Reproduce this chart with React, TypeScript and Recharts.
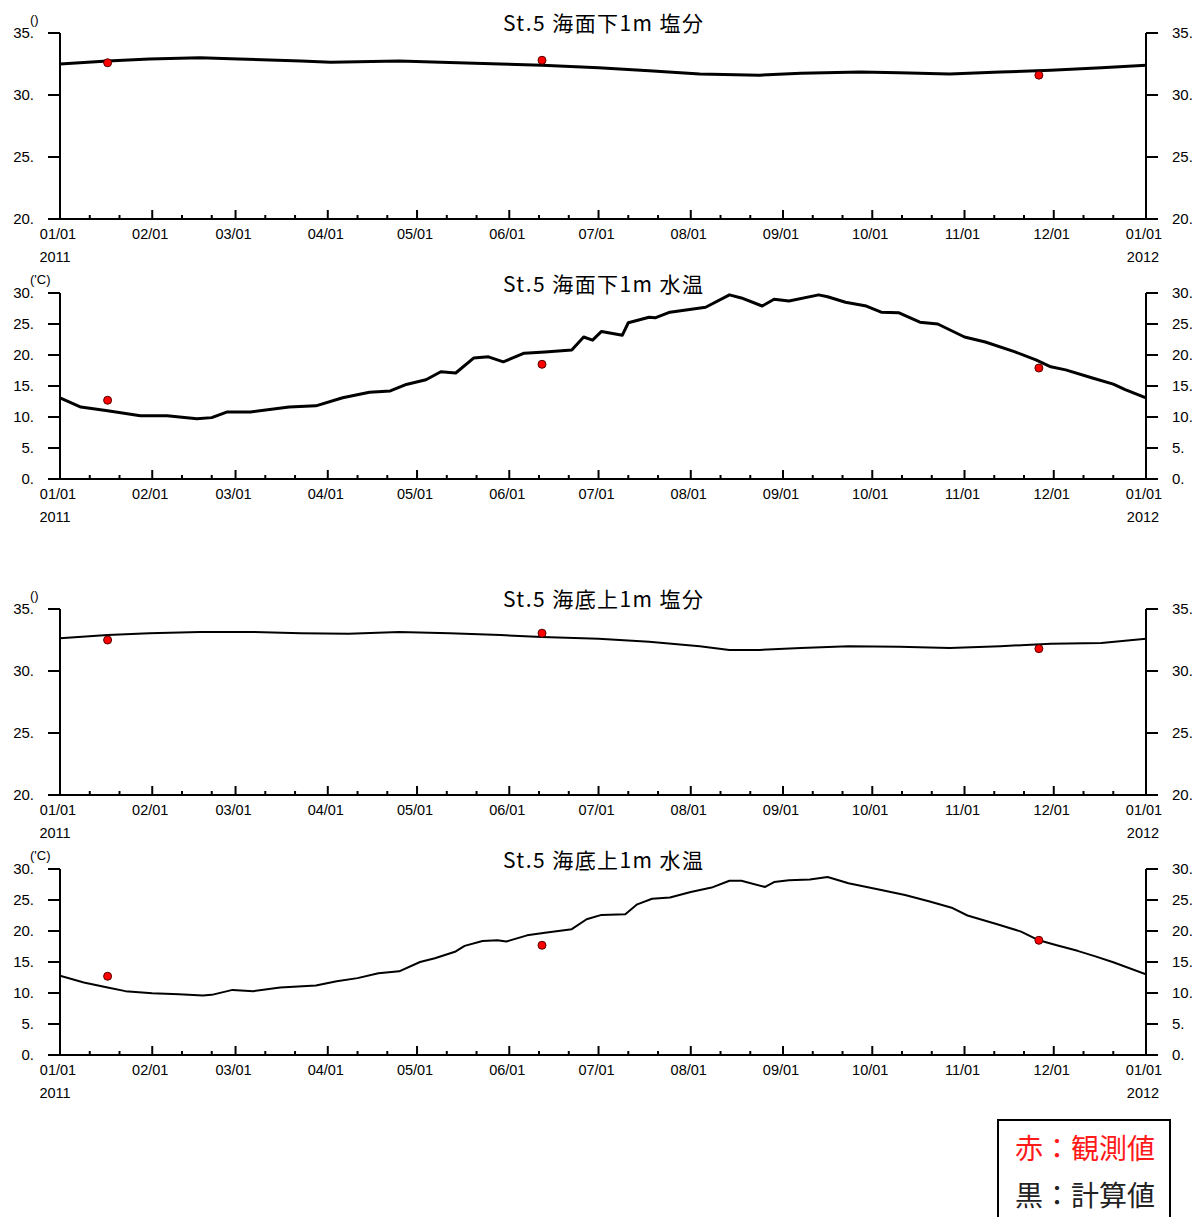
import React from 'react';
import { ComposedChart, Line, Scatter, XAxis, YAxis } from 'recharts';

// ---- axis ticks ----
const monthStartDays = [0, 31, 59, 90, 120, 151, 181, 212, 243, 273, 304, 334, 365];
const monthLabels = ['01/01', '02/01', '03/01', '04/01', '05/01', '06/01', '07/01', '08/01', '09/01', '10/01', '11/01', '12/01', '01/01'];
const minorTickDays = [10, 20, 41, 51, 69, 79, 100, 110, 130, 140, 161, 171, 191, 201, 222, 232, 253, 263, 283, 293, 314, 324, 344, 354];
const startYearLabel = '2011';
const endYearLabel = '2012';
const salinityTicks = [20, 25, 30, 35];
const temperatureTicks = [0, 5, 10, 15, 20, 25, 30];

// ---- series: St.5 surface (1m below surface) salinity ----
const surfSalDays = [0, 16, 30, 47, 60, 81, 91, 114, 128, 148, 162, 181, 198, 215, 235, 249, 269, 282, 299, 316, 333, 350, 365];
const surfSalValues = [32.5, 32.75, 32.9, 33.0, 32.9, 32.75, 32.65, 32.75, 32.65, 32.5, 32.4, 32.2, 31.95, 31.7, 31.6, 31.75, 31.85, 31.8, 31.7, 31.85, 32.0, 32.2, 32.4];

// ---- series: St.5 surface temperature ----
const surfTempDays = [0, 7, 16, 27, 36, 46, 51, 56, 64, 77, 86, 95, 104, 111, 116, 123, 128, 133, 139, 144, 149, 156, 163, 172, 176, 179, 182, 189, 191, 198, 200, 205, 217, 225, 229, 236, 240, 245, 255, 258, 264, 271, 276, 282, 289, 295, 304, 311, 321, 328, 333, 338, 347, 354, 358, 365];
const surfTempValues = [13.1, 11.6, 11.0, 10.2, 10.2, 9.7, 9.9, 10.8, 10.8, 11.6, 11.8, 13.1, 14.0, 14.2, 15.2, 16.0, 17.3, 17.1, 19.5, 19.7, 18.9, 20.3, 20.5, 20.8, 22.9, 22.4, 23.8, 23.2, 25.2, 26.1, 26.0, 26.9, 27.7, 29.7, 29.2, 27.9, 29.0, 28.7, 29.7, 29.4, 28.5, 27.9, 26.9, 26.8, 25.3, 25.0, 22.9, 22.1, 20.5, 19.2, 18.1, 17.6, 16.3, 15.3, 14.4, 13.1];

// ---- series: St.5 bottom (1m above seabed) salinity ----
const botSalDays = [0, 16, 30, 47, 64, 81, 97, 114, 131, 148, 162, 181, 198, 215, 225, 235, 249, 265, 282, 299, 316, 333, 350, 365];
const botSalValues = [32.65, 32.9, 33.05, 33.15, 33.15, 33.05, 33.0, 33.15, 33.05, 32.9, 32.75, 32.6, 32.35, 32.0, 31.7, 31.7, 31.85, 32.0, 31.95, 31.85, 32.0, 32.2, 32.25, 32.6];

// ---- series: St.5 bottom temperature ----
const botTempDays = [0, 8, 16, 22, 31, 40, 48, 51, 58, 65, 74, 86, 93, 100, 107, 114, 121, 126, 133, 136, 142, 147, 150, 157, 163, 172, 177, 182, 190, 194, 199, 205, 212, 219, 225, 229, 237, 240, 245, 252, 258, 265, 276, 284, 292, 300, 305, 315, 323, 329, 335, 342, 348, 354, 365];
const botTempValues = [12.8, 11.7, 10.9, 10.3, 9.95, 9.8, 9.6, 9.7, 10.5, 10.3, 10.9, 11.2, 11.9, 12.4, 13.2, 13.5, 15.0, 15.6, 16.7, 17.6, 18.4, 18.5, 18.3, 19.3, 19.7, 20.3, 21.9, 22.6, 22.7, 24.3, 25.2, 25.4, 26.3, 27.0, 28.1, 28.1, 27.1, 27.9, 28.2, 28.3, 28.7, 27.7, 26.6, 25.8, 24.8, 23.7, 22.5, 21.1, 19.9, 18.5, 17.7, 16.8, 15.9, 14.95, 13.0];

// ---- observations (red dots) ----
const obsDays = [16, 162, 329];
const surfSalObs = [32.6, 32.8, 31.6];
const surfTempObs = [12.7, 18.5, 17.9];
const botSalObs = [32.5, 33.05, 31.8];
const botTempObs = [12.7, 17.7, 18.5];

const toRows = (days: number[], vals: number[]) => days.map((d, i) => ({ day: d, v: vals[i] }));

const FONT = 'Liberation Sans, Arial, Helvetica, sans-serif';
const CJK = '"Noto Sans CJK JP", "Noto Sans CJK SC", sans-serif';

const allXTicks = [...monthStartDays, ...minorTickDays].sort((a, b) => a - b);

const DateTick = (props: any) => {
  const { x, y, payload } = props;
  const idx = monthStartDays.indexOf(payload.value);
  const major = idx >= 0;
  return (
    <g>
      <line x1={x} x2={x} y1={y} y2={y - (major ? 9 : 4)} stroke="#000" strokeWidth={2} />
      {major && (
        <text x={x - 2} y={y + 15} textAnchor="middle" dominantBaseline="central" fontSize={14.5} fontFamily={FONT} fill="#000">
          {monthLabels[idx]}
        </text>
      )}
      {idx === 0 && (
        <text x={x - 5} y={y + 38} textAnchor="middle" dominantBaseline="central" fontSize={14.5} fontFamily={FONT} fill="#000">
          {startYearLabel}
        </text>
      )}
      {idx === monthStartDays.length - 1 && (
        <text x={x - 3} y={y + 38} textAnchor="middle" dominantBaseline="central" fontSize={14.5} fontFamily={FONT} fill="#000">
          {endYearLabel}
        </text>
      )}
    </g>
  );
};

const Dot = (p: any) => <circle cx={p.cx} cy={p.cy} r={4} fill="#ff0000" stroke="#500" strokeWidth={1} />;

type PanelProps = {
  top: number;
  height: number;
  plotTop: number;
  plotBottom: number;
  domain: [number, number];
  ticks: number[];
  line: { day: number; v: number }[];
  obs: { day: number; v: number }[];
  lineWidth: number;
};

const X_AXIS_H = 45;

const Panel = ({ top, height, plotTop, plotBottom, domain, ticks, line, obs, lineWidth }: PanelProps) => {
  const mt = plotTop - top;
  const mb = top + height - plotBottom - X_AXIS_H;
  const axisStyle = { stroke: '#000', strokeWidth: 2 };
  const tickStyle = { fill: '#000', fontSize: 15, fontFamily: FONT };
  return (
    <div style={{ position: 'absolute', left: 0, top, width: 1200, height }}>
      <ComposedChart width={1200} height={height} data={line} margin={{ top: mt, right: 0, bottom: mb, left: 0 }}>
        <XAxis
          dataKey="day"
          type="number"
          domain={[0, 365]}
          allowDataOverflow
          ticks={allXTicks}
          interval={0}
          height={X_AXIS_H}
          tickSize={0}
          tickMargin={0}
          tickLine={false}
          axisLine={axisStyle}
          tick={(p: any) => <DateTick {...p} />}
        />
        <YAxis
          yAxisId="l"
          type="number"
          domain={domain}
          allowDataOverflow
          ticks={ticks}
          interval={0}
          width={60}
          tickSize={12}
          tickMargin={14}
          axisLine={axisStyle}
          tickLine={axisStyle}
          tick={tickStyle}
          tickFormatter={(v: number) => `${v}.`}
        />
        <YAxis
          yAxisId="r"
          orientation="right"
          type="number"
          domain={domain}
          allowDataOverflow
          ticks={ticks}
          interval={0}
          width={54}
          tickSize={12}
          tickMargin={14}
          axisLine={axisStyle}
          tickLine={axisStyle}
          tick={tickStyle}
          tickFormatter={(v: number) => `${v}.`}
        />
        <Line yAxisId="l" type="linear" dataKey="v" stroke="#000" strokeWidth={lineWidth} strokeLinejoin="round" dot={false} isAnimationActive={false} />
        <Scatter yAxisId="l" data={obs} dataKey="v" shape={(p: any) => <Dot {...p} />} isAnimationActive={false} />
      </ComposedChart>
    </div>
  );
};

const titles = [
  { text: 'St.5 海面下1m 塩分', y: 22, unit: '()', unitY: 19 },
  { text: 'St.5 海面下1m 水温', y: 283, unit: "('C)", unitY: 279 },
  { text: 'St.5 海底上1m 塩分', y: 598, unit: '()', unitY: 595 },
  { text: 'St.5 海底上1m 水温', y: 859, unit: "('C)", unitY: 855 },
];

const legendObs = '赤：観測値';
const legendCalc = '黒：計算値';

export default function App() {
  return (
    <div style={{ position: 'absolute', left: 0, top: 0, width: 1200, height: 1217, background: '#fff', overflow: 'hidden' }}>
      <Panel top={0} height={270} plotTop={33} plotBottom={219} domain={[20, 35]} ticks={salinityTicks} line={toRows(surfSalDays, surfSalValues)} obs={toRows(obsDays, surfSalObs)} lineWidth={3} />
      <Panel top={270} height={290} plotTop={293} plotBottom={479} domain={[0, 30]} ticks={temperatureTicks} line={toRows(surfTempDays, surfTempValues)} obs={toRows(obsDays, surfTempObs)} lineWidth={3} />
      <Panel top={560} height={286} plotTop={609} plotBottom={795} domain={[20, 35]} ticks={salinityTicks} line={toRows(botSalDays, botSalValues)} obs={toRows(obsDays, botSalObs)} lineWidth={2} />
      <Panel top={846} height={260} plotTop={869} plotBottom={1055} domain={[0, 30]} ticks={temperatureTicks} line={toRows(botTempDays, botTempValues)} obs={toRows(obsDays, botTempObs)} lineWidth={2} />
      <svg width={1200} height={1217} style={{ position: 'absolute', left: 0, top: 0, pointerEvents: 'none' }}>
        {titles.map((t, i) => (
          <g key={i}>
            <text x={603} y={t.y} textAnchor="middle" dominantBaseline="central" fontSize={21} fontFamily={CJK} fill="#000" textLength={200} lengthAdjust="spacing">
              {t.text}
            </text>
            <text x={30} y={t.unitY} dominantBaseline="central" fontSize={13} fontFamily={FONT} fill="#000">
              {t.unit}
            </text>
          </g>
        ))}
        <rect x={998} y={1120} width={172} height={120} fill="#fff" stroke="#000" strokeWidth={2} />
        <text x={1015} y={1147} dominantBaseline="central" fontSize={28} fontFamily={CJK} fill="#ff1a1a" textLength={140} lengthAdjust="spacing">
          {legendObs}
        </text>
        <text x={1015} y={1194} dominantBaseline="central" fontSize={28} fontFamily={CJK} fill="#222" textLength={140} lengthAdjust="spacing">
          {legendCalc}
        </text>
      </svg>
    </div>
  );
}
